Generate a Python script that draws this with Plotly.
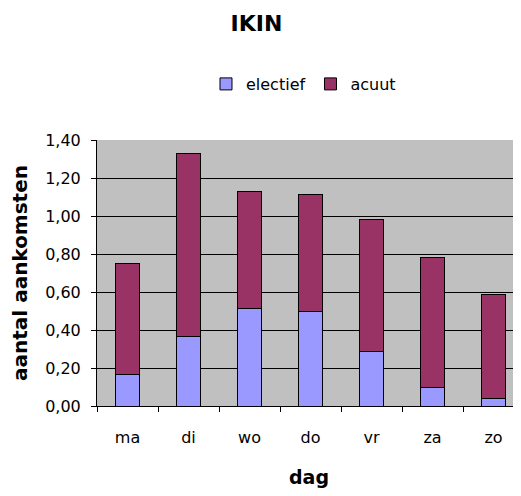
import plotly.graph_objects as go

dagen = ['ma', 'di', 'wo', 'do', 'vr', 'za', 'zo']
electief = [0.167, 0.364, 0.514, 0.496, 0.285, 0.100, 0.038]
acuut = [0.585, 0.965, 0.617, 0.616, 0.696, 0.684, 0.547]
y_ticks = [0, 0.2, 0.4, 0.6, 0.8, 1.0, 1.2, 1.4]

FONT = 'DejaVu Sans, Arial, sans-serif'

# de pagina heeft 8px body-marge, dus figuur iets kleiner
W, H = 513, 488

fig = go.Figure()

fig.add_trace(go.Bar(
    x=dagen,
    y=electief,
    name='electief',
    marker=dict(color='#9999FF', line=dict(color='black', width=1)),
    width=0.4
))

fig.add_trace(go.Bar(
    x=dagen,
    y=acuut,
    name='acuut',
    marker=dict(color='#993366', line=dict(color='black', width=1)),
    width=0.4
))

fig.update_layout(
    template='none',
    width=W,
    height=H,
    barmode='stack',
    separators=',.',
    paper_bgcolor='white',
    plot_bgcolor='#C0C0C0',
    font=dict(family=FONT, color='black', size=16),
    title=dict(
        text='<b>IKIN</b>',
        font=dict(size=22, family=FONT, color='black'),
        x=248.5 / W, xref='container', xanchor='center',
        y=1 - 15 / H, yref='container', yanchor='middle',
        automargin=False
    ),
    legend=dict(
        orientation='h',
        traceorder='normal',
        x=0.487, xanchor='center',
        y=1 - 76 / H, yref='container', yanchor='middle',
        font=dict(size=16, family=FONT),
        bgcolor='rgba(0,0,0,0)',
        itemwidth=30
    ),
    xaxis=dict(
        title=dict(text='<b>dag</b>', font=dict(size=19, family=FONT), standoff=24),
        range=[-0.5, 6.45],
        automargin=False,
        showline=True, linecolor='black', linewidth=1,
        ticks='outside', ticklen=5, tickcolor='black',
        tickson='boundaries',
        showgrid=False,
        ticklabelstandoff=17,
        tickfont=dict(size=16, family=FONT)
    ),
    yaxis=dict(
        title=dict(text='<b>aantal aankomsten</b>', font=dict(size=20, family=FONT), standoff=30),
        range=[0, 1.4],
        automargin=False,
        tickvals=y_ticks,
        tickformat='.2f',
        showline=True, linecolor='black', linewidth=1,
        ticks='outside', ticklen=5, tickcolor='black',
        showgrid=True, gridcolor='black', gridwidth=1, griddash='solid',
        zeroline=False,
        ticklabelstandoff=7,
        tickfont=dict(size=16, family=FONT)
    ),
    margin=dict(l=89, r=0, t=132, b=90, autoexpand=False),
    showlegend=True
)

fig.write_html('out.html')
